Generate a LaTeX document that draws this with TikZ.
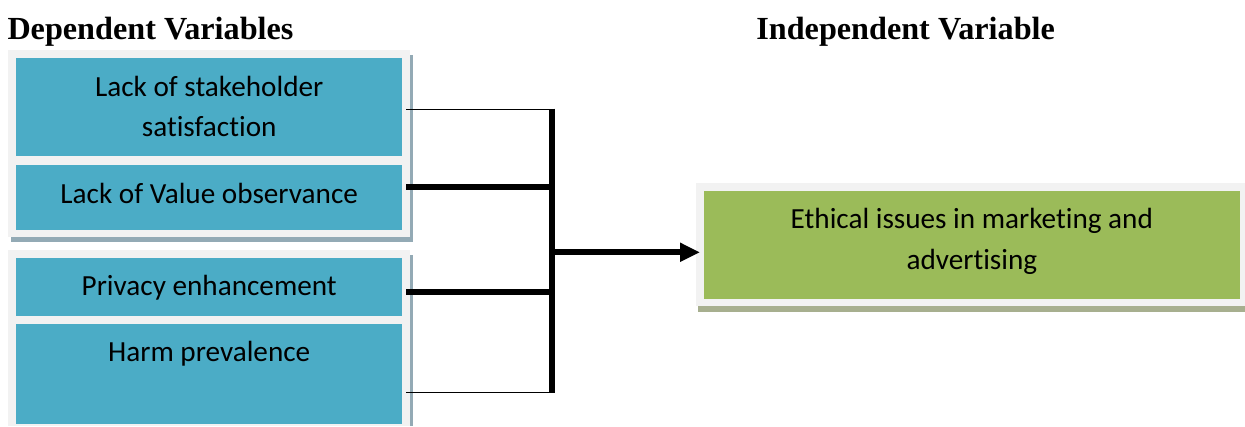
\documentclass[tikz,border=0pt]{standalone}
\usepackage{fontspec}
\setmainfont{Liberation Serif}
\newfontfamily\boxfont[Ligatures=NoCommon]{Carlito}
\usetikzlibrary{arrows.meta,calc}
\definecolor{boxblue}{HTML}{4BACC6}
\definecolor{boxgreen}{HTML}{9BBB59}
\definecolor{panelgray}{HTML}{F2F2F2}
\definecolor{shblue}{HTML}{93AAB5}
\definecolor{shgreen}{HTML}{A7AF8F}
\tikzset{
  panel/.style={fill=panelgray, draw=none, inner sep=0pt, anchor=north west},
  shadowbox/.style={draw=none, inner sep=0pt, anchor=north west},
  bluebox/.style={fill=boxblue, draw=none, inner sep=0pt, anchor=north west, minimum width=386pt},
  greenbox/.style={fill=boxgreen, draw=none, inner sep=0pt, anchor=north west},
  lbl/.style={inner sep=0pt, anchor=base, align=center, font=\boxfont\fontsize{29.2}{40.7}\selectfont},
  heading/.style={inner sep=0pt, anchor=base west, font=\bfseries\fontsize{32.2}{38}\selectfont},
  thinconn/.style={line width=1.3pt},
  thickconn/.style={line width=6pt},
}
\begin{document}
\begin{tikzpicture}[x=1pt,y=-1pt]
\useasboundingbox (0,0) rectangle (1245,426);
\fill[white] (0,0) rectangle (1245,426);

% headings
\node[heading] (hdep) at (7.3,39.3) {Dependent Variables};
\node[heading] (hind) at (756.2,39.3) {Independent Variable};

% group 1
\node[shadowbox, fill=shblue, minimum width=401.5pt, minimum height=187pt] (s1) at (11,55) {};
\node[panel, minimum width=402pt, minimum height=187.4pt] (p1) at (8,49.3) {};
\node[bluebox, minimum height=98.7pt] (b1) at (16,57.3) {};
\node[bluebox, minimum height=65pt] (b2) at (16,164.3) {};

% group 2
\node[shadowbox, fill=shblue, minimum width=401.5pt, minimum height=171pt] (s2) at (11,255) {};
\node[panel, minimum width=402pt, minimum height=176.7pt] (p2) at (8,249.3) {};
\node[bluebox, minimum height=58.4pt] (b3) at (16,257.3) {};
\node[bluebox, minimum height=99.3pt] (b4) at (16,324) {};

% target group
\node[shadowbox, fill=shgreen, minimum width=547pt, minimum height=10pt] (s3) at (698,301.7) {};
\node[panel, minimum width=549pt, minimum height=123.3pt] (p3) at (696,182.7) {};
\node[greenbox, minimum width=536.7pt, minimum height=107.6pt] (g) at (703.3,190.7) {};

% texts (base anchor = baseline of last line)
\node[lbl] (t1) at ($(b1.north)+(0,79.4)$) {Lack of stakeholder\\satisfaction};
\node[lbl] (t2) at ($(b2.north)+(0,39)$) {Lack of Value observance};
\node[lbl] (t3) at ($(b3.north)+(0,37.7)$) {Privacy enhancement};
\node[lbl] (t4) at ($(b4.north)+(0,37.7)$) {Harm prevalence};
\node[lbl] (tg) at ($(g.north)+(0,78.3)$) {Ethical issues in marketing and\\advertising};

% bus bar
\coordinate (jtop) at (552,108.7);
\coordinate (jbot) at (552,393.3);
\coordinate (j1) at (552,109.3);
\coordinate (j2) at (552,186.7);
\coordinate (j3) at (552,292);
\coordinate (j4) at (552,392.7);
\coordinate (jout) at (552,252.3);

\draw[thickconn] (jtop) -- (jbot);
\draw[thinconn] ([xshift=4pt]b1.east |- j1) -- (j1);
\draw[thickconn] ([xshift=4pt]b2.east |- j2) -- (j2);
\draw[thickconn] ([xshift=4pt]b3.east |- j3) -- (j3);
\draw[thinconn] ([xshift=4pt]b4.east |- j4) -- (j4);
\draw[thickconn, -{Triangle[length=20pt,width=18pt]}] (jout) -- ([xshift=4pt]p3.west |- jout);
\end{tikzpicture}
\end{document}
